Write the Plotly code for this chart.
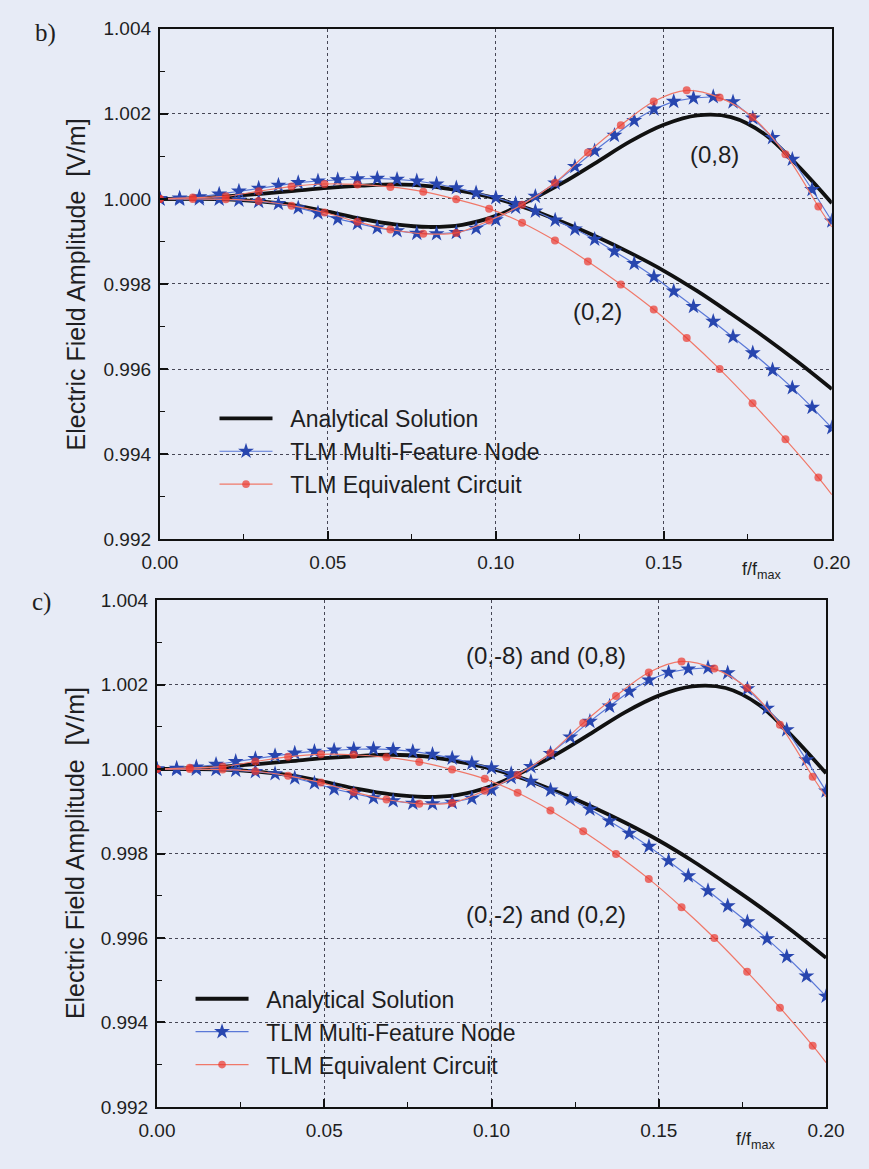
import plotly.graph_objects as go

# ---------------- data ----------------
x_black = [0.00, 0.01, 0.02, 0.03, 0.04, 0.05, 0.06, 0.07, 0.08, 0.09, 0.10,
           0.11, 0.12, 0.13, 0.14, 0.15, 0.16, 0.17, 0.18, 0.19, 0.20]
black_02 = [1.00000, 1.00002, 1.00006, 1.00012, 1.00019, 1.00026, 1.00031, 1.00034,
            1.00030, 1.00018, 1.00001, 0.99976, 0.99945, 0.99911, 0.99873, 0.99831,
            0.99783, 0.99730, 0.99675, 0.99616, 0.99553]
black_08 = [1.00000, 1.00000, 0.99999, 0.99994, 0.99985, 0.99970, 0.99953, 0.99940,
            0.99934, 0.99939, 0.99960, 0.99996, 1.00038, 1.00086, 1.00135, 1.00174,
            1.00196, 1.00192, 1.00152, 1.00077, 0.99990]

x_star = [0.0, 0.00588, 0.01176, 0.01765, 0.02353, 0.02941, 0.03529, 0.04118, 0.04706,
          0.05294, 0.05882, 0.06471, 0.07059, 0.07647, 0.08235, 0.08824, 0.09412, 0.1,
          0.10588, 0.11176, 0.11765, 0.12353, 0.12941, 0.13529, 0.14118, 0.14706,
          0.15294, 0.15882, 0.16471, 0.17059, 0.17647, 0.18235, 0.18824, 0.19412, 0.2]
star_02 = [1.00000, 1.00002, 1.00005, 1.00011, 1.00018, 1.00025, 1.00032, 1.00038,
           1.00042, 1.00045, 1.00047, 1.00048, 1.00046, 1.00042, 1.00035, 1.00026,
           1.00014, 1.00003, 0.99989, 0.99971, 0.99950, 0.99929, 0.99905, 0.99877,
           0.99848, 0.99817, 0.99783, 0.99747, 0.99712, 0.99676, 0.99638, 0.99598,
           0.99556, 0.99510, 0.99462]
star_08 = [1.00000, 0.99999, 1.00000, 0.99999, 0.99997, 0.99994, 0.99989, 0.99979,
           0.99967, 0.99953, 0.99942, 0.99932, 0.99925, 0.99919, 0.99918, 0.99921,
           0.99931, 0.99951, 0.99980, 1.00006, 1.00037, 1.00076, 1.00113, 1.00149,
           1.00184, 1.00211, 1.00229, 1.00237, 1.00240, 1.00228, 1.00190, 1.00144,
           1.00093, 1.00022, 0.99948]

x_red = [0.0, 0.0098, 0.0196, 0.0294, 0.0392, 0.049, 0.0588, 0.0686, 0.0784, 0.0882,
         0.098, 0.1078, 0.1176, 0.1274, 0.1372, 0.147, 0.1568, 0.1666, 0.1764, 0.1862,
         0.196, 0.2]
red_02 = [1.00000, 1.00003, 1.00006, 1.00018, 1.00029, 1.00035, 1.00034, 1.00028,
          1.00017, 0.99999, 0.99977, 0.99944, 0.99902, 0.99853, 0.99799, 0.99740,
          0.99673, 0.99600, 0.99520, 0.99435, 0.99345, 0.99305]
red_08 = [1.00000, 1.00000, 0.99999, 0.99995, 0.99984, 0.99968, 0.99946, 0.99928,
          0.99918, 0.99920, 0.99949, 0.99986, 1.00038, 1.00109, 1.00173, 1.00229,
          1.00255, 1.00238, 1.00192, 1.00105, 0.99982, 0.99934]
red_marker_size = [8] * 21 + [0]

x_ticks = [0.00, 0.05, 0.10, 0.15, 0.20]
y_ticks = [0.992, 0.994, 0.996, 0.998, 1.000, 1.002, 1.004]

legend_names = ["Analytical Solution", "TLM Multi-Feature Node", "TLM Equivalent Circuit"]

# ---------------- style ----------------
W, H = 869, 1169
BG = "rgb(231,235,246)"
TXT = "#1e1e22"
BLACK = "#111111"
BLUE_M = "rgb(40,70,175)"
BLUE_L = "rgb(90,120,215)"
RED_M = "rgb(235,55,45)"
RED_L = "rgb(240,120,105)"
FONT = "Liberation Sans, Arial, sans-serif"
GAP = "\u00a0\u00a0"

fig = go.Figure()

panels = [("x", "y", "legend"), ("x2", "y2", "legend2")]
for xa, ya, lg in panels:
    for i, yb in enumerate([black_02, black_08]):
        fig.add_trace(go.Scatter(x=x_black, y=yb, mode="lines", xaxis=xa, yaxis=ya,
                                 line=dict(color=BLACK, width=3.8, shape="spline"),
                                 name=GAP + legend_names[0], legend=lg, showlegend=(i == 0),
                                 legendgroup=lg + "a"))
    for i, ys in enumerate([star_02, star_08]):
        fig.add_trace(go.Scatter(x=x_star, y=ys, mode="lines+markers", xaxis=xa, yaxis=ya,
                                 line=dict(color=BLUE_L, width=1.2),
                                 marker=dict(symbol="star", size=12, color=BLUE_M,
                                             line=dict(width=0)),
                                 name=GAP + legend_names[1], legend=lg, showlegend=(i == 0),
                                 legendgroup=lg + "b"))
    for i, yr in enumerate([red_02, red_08]):
        fig.add_trace(go.Scatter(x=x_red, y=yr, mode="lines+markers", xaxis=xa, yaxis=ya,
                                 line=dict(color=RED_L, width=1.2, shape="spline"),
                                 marker=dict(symbol="circle", size=red_marker_size, color=RED_M,
                                             line=dict(width=0)),
                                 name=GAP + legend_names[2], legend=lg, showlegend=(i == 0),
                                 legendgroup=lg + "c"))

def xaxis_style(domain, anchor):
    return dict(domain=domain, anchor=anchor, range=[0, 0.2], tickvals=x_ticks,
                tickformat=".2f", ticks="inside", ticklen=8, tickwidth=1.5,
                tickcolor=BLACK, showline=True, linewidth=2, linecolor=BLACK, mirror=True,
                showgrid=True, gridcolor="rgb(70,70,85)", gridwidth=1, griddash="3px,3px",
                zeroline=False, ticklabelstandoff=5,
                tickfont=dict(family=FONT, size=19, color=TXT),
                minor=dict(ticks="inside", ticklen=5, tickwidth=1.2, tickcolor=BLACK,
                           dtick=0.025, tick0=0, showgrid=False))

def yaxis_style(domain, anchor):
    return dict(domain=domain, anchor=anchor, range=[0.992, 1.004], tickvals=y_ticks,
                tickformat=".3f", ticks="inside", ticklen=8, tickwidth=1.5,
                tickcolor=BLACK, showline=True, linewidth=2, linecolor=BLACK, mirror=True,
                showgrid=True, gridcolor="rgb(70,70,85)", gridwidth=1, griddash="3px,3px",
                zeroline=False, ticklabelstandoff=3,
                tickfont=dict(family=FONT, size=19, color=TXT),
                minor=dict(ticks="inside", ticklen=5, tickwidth=1.2, tickcolor=BLACK,
                           dtick=0.001, tick0=0.992, showgrid=False))

top_x = [148 / W, 849 / W]
top_y = [1 - 539 / H, 1 - 19 / H]
bot_x = [145 / W, 843 / W]
bot_y = [1 - 1117 / H, 1 - 601 / H]

leg_common = dict(bgcolor="rgba(0,0,0,0)", borderwidth=0, itemwidth=53,
                  font=dict(family=FONT, size=23, color=TXT), xanchor="left",
                  yanchor="top", tracegroupgap=0, itemclick=False)

fig.update_layout(
    width=W, height=H, margin=dict(l=0, r=0, t=0, b=0),
    paper_bgcolor=BG, plot_bgcolor=BG,
    xaxis=xaxis_style(top_x, "y"), yaxis=yaxis_style(top_y, "x"),
    xaxis2=xaxis_style(bot_x, "y2"), yaxis2=yaxis_style(bot_y, "x2"),
    legend=dict(x=205 / W, y=1 - 394 / H, **leg_common),
    legend2=dict(x=180 / W, y=1 - 985 / H, **leg_common),
)

ann_font = dict(family=FONT, size=24, color=TXT)
serif = dict(family="Liberation Serif, Times New Roman, serif", size=25, color=TXT)
title_font = dict(family=FONT, size=25, color=TXT)
sub_font = dict(family=FONT, size=18, color=TXT)

def pa(text, px, py, font, angle=0):
    return dict(text=text, x=px / W, y=1 - py / H, xref="paper", yref="paper",
                xanchor="center", yanchor="middle", showarrow=False, font=font,
                textangle=angle)

annotations = [
    dict(text="(0,8)", x=0.1652, y=1.00105, xref="x", yref="y", showarrow=False,
         xanchor="center", yanchor="middle", font=ann_font),
    dict(text="(0,2)", x=0.1304, y=0.99735, xref="x", yref="y", showarrow=False,
         xanchor="center", yanchor="middle", font=ann_font),
    dict(text="(0,-8) and (0,8)", x=0.1163, y=1.0027, xref="x2", yref="y2", showarrow=False,
         xanchor="center", yanchor="middle", font=ann_font),
    dict(text="(0,-2) and (0,2)", x=0.1163, y=0.99655, xref="x2", yref="y2", showarrow=False,
         xanchor="center", yanchor="middle", font=ann_font),
    pa("b)", 29, 23, serif),
    pa("c)", 24, 603, serif),
    pa("Electric Field Amplitude&nbsp; [V/m]", 61, 279, title_font, -90),
    pa("Electric Field Amplitude&nbsp; [V/m]", 59, 859, title_font, -90),
    pa("f/f<sub>max</sub>", 776, 571, sub_font),
    pa("f/f<sub>max</sub>", 770, 1151, sub_font),
]
fig.update_layout(annotations=annotations)

fig.write_html("out.html", config={"displayModeBar": False},
               post_script="document.body.style.margin='0px';")
